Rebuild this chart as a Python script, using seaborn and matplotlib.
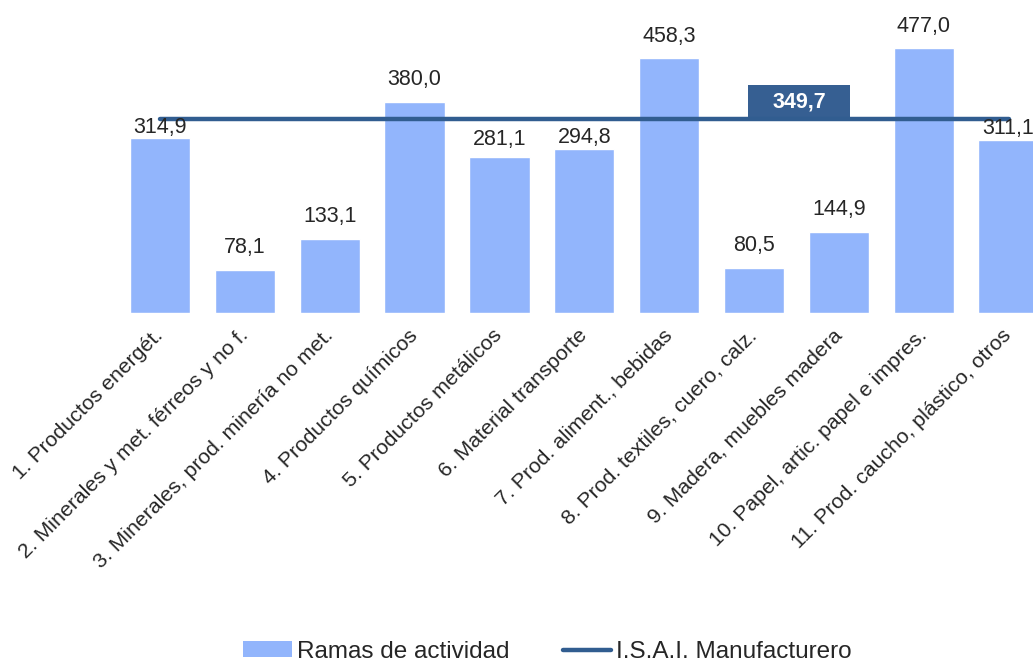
import matplotlib
matplotlib.use("Agg")
import matplotlib.pyplot as plt
import seaborn as sns
import pandas as pd
from matplotlib.patches import Rectangle
from matplotlib.lines import Line2D
from matplotlib.patches import Patch

categories = [
    "1. Productos energét.",
    "2. Minerales y met. férreos y no f.",
    "3. Minerales, prod. minería no met.",
    "4. Productos químicos",
    "5. Productos metálicos",
    "6. Material transporte",
    "7. Prod. aliment., bebidas",
    "8. Prod. textiles, cuero, calz.",
    "9. Madera, muebles madera",
    "10. Papel, artic. papel e impres.",
    "11. Prod. caucho, plástico, otros",
]
ramas = [314.9, 78.1, 133.1, 380.0, 281.1, 294.8, 458.3, 80.5, 144.9, 477.0, 311.1]
isai_value = 349.7
isai = [isai_value] * len(categories)
legend_labels = ["Ramas de actividad", "I.S.A.I. Manufacturero"]

bar_color = "#92b5fc"
line_color = "#315d90"
box_color = "#365f92"
text_color = "#262626"

sns.set_theme(style="white")
plt.rcParams["font.family"] = ["Liberation Sans", "DejaVu Sans"]

fig = plt.figure(figsize=(10.33, 6.61), dpi=100)
ax = fig.add_axes([0.1138, 0.5265, 0.9036, 0.4206])

df = pd.DataFrame({"cat": categories, "ramas": ramas, "isai": isai})
sns.barplot(data=df, x="cat", y="ramas", color=bar_color, saturation=1,
            width=0.71, ax=ax, zorder=2)
ax.plot(range(len(categories)), df["isai"], color=line_color, lw=3.2,
        solid_capstyle="round", zorder=4)

# value labels: gap (px) between bar top and digits, as placed in the original
gaps_px = [5, 17, 17, 17, 12, 6, 16, 17, 17, 16, 6]
for patch, v, g in zip(ax.patches, ramas, gaps_px):
    ax.annotate(f"{v:.1f}".replace(".", ","),
                (patch.get_x() + patch.get_width() / 2, patch.get_height()),
                xytext=(0, g * 0.72), textcoords="offset points",
                ha="center", va="baseline", fontsize=15.5, color=text_color,
                annotation_clip=False, zorder=5)

# value box for ISAI
bw, bh = 1.2, 60
bx = 7.53
ax.add_patch(Rectangle((bx - bw / 2, isai_value - 1), bw, bh + 1,
                       facecolor=box_color, edgecolor="none", zorder=3,
                       clip_on=False))
ax.text(bx, isai_value + bh / 2, f"{isai_value:.1f}".replace(".", ","),
        ha="center", va="center", color="white", fontsize=15.5,
        fontweight="bold", zorder=5)

ax.set_xlim(-0.5, len(categories) - 0.5)
ax.set_ylim(0, 500)
ax.set_xlabel("")
ax.set_ylabel("")
ax.set_yticks([])
for s in ax.spines.values():
    s.set_visible(False)
ax.tick_params(axis="x", length=0, pad=14)
ax.set_xticks(range(len(categories)))
ax.set_xticklabels(categories, rotation=45, ha="right", va="center",
                   rotation_mode="anchor", fontsize=15.3, color=text_color)

handles = [Patch(facecolor=bar_color, edgecolor="none"),
           Line2D([0], [0], color=line_color, lw=3.2, solid_capstyle="round")]
fig.legend(handles, legend_labels, loc="center", bbox_to_anchor=(0.53, 0.014),
           ncol=2, frameon=False, fontsize=17.5, handlelength=2.0,
           handleheight=0.6, handletextpad=0.2, columnspacing=2.2,
           labelcolor=text_color)

fig.savefig("out.png", dpi=100)
